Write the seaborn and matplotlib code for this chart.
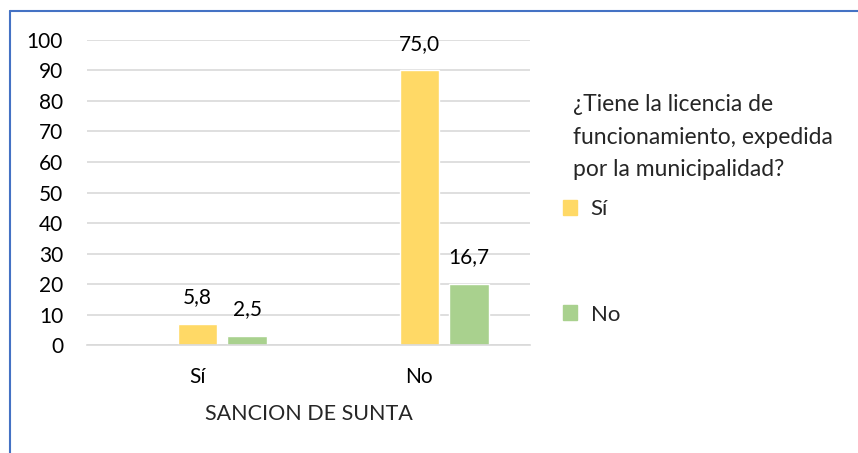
import pandas as pd
import matplotlib
matplotlib.use("Agg")
import matplotlib.pyplot as plt
from matplotlib.patches import Patch
from matplotlib.lines import Line2D
import seaborn as sns

# data: bar heights are counts, labels are percentages
categories = ["Sí", "No"]
series = ["Sí", "No"]
counts_si = [7, 90]
counts_no = [3, 20]
pct_si = [5.8, 75.0]
pct_no = [2.5, 16.7]
yticks = list(range(0, 101, 10))

sns.set_theme(style="white")
plt.rcParams["font.family"] = ["Lato", "DejaVu Sans"]

colors = {"": (1, 1, 1, 0), "Sí": "#FFD966", "No": "#A9D18E"}
fs = 15

# empty first series keeps Excel's offset of the bar groups
df = pd.DataFrame({
    "cat": categories * 3,
    "serie": [""] * 2 + ["Sí"] * 2 + ["No"] * 2,
    "val": [0, 0] + counts_si + counts_no,
})

fig = plt.figure(figsize=(8.58, 4.53), dpi=100)
ax = fig.add_axes([0.101, 0.238, 0.517, 0.674])

sns.barplot(data=df, x="cat", y="val", hue="serie", hue_order=["", "Sí", "No"],
            palette=colors, width=0.67, gap=0.2, ax=ax, legend=False, saturation=1)

for cont, labels in zip(ax.containers[1:], [pct_si, pct_no]):
    ax.bar_label(cont, labels=[f"{v:.1f}".replace(".", ",") for v in labels],
                 padding=12, fontsize=fs, color="#000000")

ax.set_ylim(0, 100)
ax.set_yticks(yticks)
ax.set_xlim(-0.5, 1.5)
ax.yaxis.grid(True, color="#D9D9D9", linewidth=1.2)
ax.set_axisbelow(True)
for s in ["top", "right", "left"]:
    ax.spines[s].set_visible(False)
ax.spines["bottom"].set_color("#D9D9D9")
ax.spines["bottom"].set_linewidth(1.2)
ax.tick_params(axis="both", length=0, labelsize=fs, colors="#000000")
ax.tick_params(axis="y", pad=17)
ax.tick_params(axis="x", pad=16)
ax.set_ylabel("")
ax.set_xlabel("SANCION DE SUNTA", fontsize=15.5, labelpad=12)

# legend title drawn as text, entries as a legend below it
fig.text(0.668, 0.792, "¿Tiene la licencia de\nfuncionamiento, expedida\npor la municipalidad?",
         fontsize=16.5, ha="left", va="top", linespacing=1.68)
handles = [Patch(color=colors[s]) for s in series]
fig.legend(handles, series, loc="upper left", bbox_to_anchor=(0.643, 0.585),
           frameon=False, fontsize=16, handlelength=0.65, handleheight=0.65,
           handletextpad=0.6, labelspacing=3.85, borderpad=0)

# blue chart border (left and top)
fig.add_artist(Line2D([0.012, 0.012], [0, 0.976], color="#4472C4", linewidth=1.5))
fig.add_artist(Line2D([0.012, 1], [0.976, 0.976], color="#4472C4", linewidth=1.5))

fig.savefig("out.png", dpi=100)
